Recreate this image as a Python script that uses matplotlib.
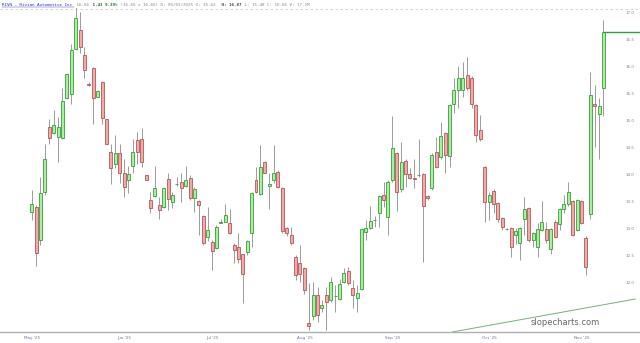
import matplotlib
matplotlib.use("Agg")
import matplotlib.pyplot as plt
import numpy as np

# daily RIVN candles
opens = [13.33, 13.42, 12.80, 13.70, 14.89, 14.78, 14.72, 14.70, 15.44, 15.51,
         16.35, 16.70, 16.23, 15.70, 15.99, 15.46, 15.73, 15.04, 14.44, 14.22,
         14.42, 14.05, 13.92, 14.18, 14.65, 14.67, 14.00, 13.55, 13.62, 13.45,
         13.41, 13.94, 13.50, 13.84, 13.88, 13.80, 13.96, 13.59, 13.52, 13.25,
         12.86, 12.76, 12.65, 13.12, 13.14, 13.11, 12.72, 12.67, 12.54, 12.59,
         12.93, 13.92, 13.65, 14.24, 13.80, 13.91, 14.07, 13.77, 13.02, 12.89,
         12.48, 12.37, 12.28, 11.27, 11.39, 11.78, 11.54, 11.78, 11.69, 11.76,
         11.72, 12.03, 12.23, 11.91, 11.73, 11.89, 12.96, 13.02, 13.17, 13.30,
         13.64, 13.23, 13.91, 14.41, 13.74, 14.27, 14.02, 13.96, 14.00, 14.02,
         13.62, 13.77, 14.43, 14.35, 14.78, 14.36, 15.32, 15.59, 15.58, 15.86,
         15.81, 15.31, 14.84, 14.16, 13.50, 13.72, 13.49, 13.22, 13.01, 13.03,
         12.89, 12.74, 13.19, 13.39, 12.80, 12.67, 12.99, 13.00, 12.63, 13.14,
         13.10, 13.37, 13.47, 13.52, 12.99, 13.53, 12.85, 13.28, 15.32, 15.13,
         15.62]
highs = [13.73, 13.45, 13.97, 14.59, 15.05, 15.22, 15.09, 15.61, 15.90, 16.44,
         17.12, 17.03, 16.38, 15.73, 16.01, 15.59, 15.75, 15.05, 14.59, 14.75,
         14.59, 14.31, 14.18, 14.68, 14.81, 14.87, 14.01, 13.70, 14.17, 13.60,
         13.79, 14.05, 13.70, 13.97, 14.04, 14.17, 14.00, 13.79, 13.54, 13.27,
         13.41, 12.80, 13.08, 13.20, 13.47, 13.37, 12.74, 12.93, 12.55, 12.80,
         13.70, 14.16, 14.56, 14.27, 14.04, 14.56, 14.10, 13.79, 13.05, 13.05,
         12.52, 12.71, 12.31, 12.01, 12.03, 11.94, 11.69, 11.94, 12.12, 11.97,
         12.09, 12.28, 12.31, 12.07, 11.97, 13.02, 13.18, 13.43, 13.25, 13.64,
         13.88, 13.91, 15.10, 14.44, 14.62, 14.31, 14.13, 14.31, 14.68, 14.04,
         13.64, 14.41, 14.72, 14.99, 14.81, 15.33, 15.80, 16.02, 16.10, 16.20,
         15.84, 15.33, 15.12, 14.17, 13.70, 13.74, 13.51, 13.23, 13.02, 13.05,
         13.02, 13.05, 13.60, 13.41, 12.96, 13.11, 13.53, 13.14, 13.02, 13.18,
         13.39, 13.64, 13.88, 13.55, 13.57, 13.55, 12.88, 15.92, 15.67, 15.43,
         16.87]
lows = [13.17, 12.32, 12.71, 13.64, 14.58, 14.77, 14.25, 14.68, 15.42, 15.32,
        16.32, 16.26, 15.80, 15.66, 14.95, 15.45, 14.95, 14.58, 13.85, 14.13,
        13.86, 13.60, 13.68, 14.04, 14.22, 14.16, 13.91, 13.30, 13.60, 13.20,
        13.39, 13.36, 13.39, 13.81, 13.51, 13.79, 13.55, 13.33, 12.89, 12.71,
        12.79, 12.25, 12.63, 13.11, 13.13, 12.91, 12.37, 12.37, 11.63, 12.52,
        12.67, 13.68, 13.64, 14.04, 13.37, 13.86, 13.76, 12.94, 12.87, 12.71,
        12.07, 12.03, 11.81, 11.14, 11.32, 11.28, 11.47, 11.14, 11.66, 11.47,
        11.69, 12.01, 11.97, 11.54, 11.47, 11.88, 12.80, 13.00, 13.05, 13.05,
        13.42, 12.89, 13.88, 13.35, 13.70, 13.79, 13.94, 13.76, 13.97, 12.40,
        13.55, 13.73, 14.13, 14.31, 14.05, 14.16, 15.15, 15.24, 15.46, 15.58,
        15.24, 14.62, 14.64, 13.14, 13.17, 13.30, 13.14, 12.99, 12.99, 12.49,
        12.73, 12.44, 12.89, 12.77, 12.68, 12.49, 12.97, 12.74, 12.55, 12.85,
        12.99, 13.30, 13.44, 12.88, 12.97, 13.10, 12.15, 13.20, 14.53, 14.30,
        15.10]
closes = [13.47, 12.57, 13.67, 14.30, 14.70, 14.94, 14.89, 15.37, 15.88, 16.32,
          16.91, 16.37, 15.96, 15.68, 15.44, 15.56, 15.07, 14.59, 14.13, 14.42,
          14.04, 13.78, 14.02, 14.44, 14.44, 14.24, 13.92, 13.39, 13.76, 13.36,
          13.77, 13.56, 13.64, 13.85, 13.76, 13.92, 13.59, 13.74, 13.45, 12.74,
          12.99, 12.60, 13.05, 13.13, 13.26, 12.93, 12.62, 12.46, 12.17, 12.78,
          13.68, 13.70, 14.15, 14.05, 13.84, 14.04, 13.78, 12.97, 12.93, 12.75,
          12.16, 12.18, 11.88, 11.22, 11.78, 11.41, 11.60, 11.65, 12.03, 11.77,
          11.99, 12.20, 12.00, 11.78, 11.83, 13.00, 13.02, 13.16, 13.18, 13.62,
          13.55, 13.88, 14.50, 13.70, 14.24, 14.02, 13.96, 13.93, 14.01, 13.43,
          13.59, 14.37, 14.16, 14.73, 14.38, 15.31, 15.59, 15.80, 15.80, 15.61,
          15.33, 14.75, 14.67, 13.51, 13.64, 13.47, 13.20, 13.05, 13.00, 12.67,
          12.97, 13.03, 13.37, 12.80, 12.93, 13.00, 13.13, 12.81, 13.00, 12.86,
          13.37, 13.47, 13.70, 12.89, 13.55, 13.12, 12.31, 15.49, 15.28, 15.28,
          16.66]

month_pos = [0, 21, 41, 62, 82, 104, 125]
month_labels = ["May '25", "Jun '25", "Jul '25", "Aug '25", "Sep '25", "Oct '25", "Nov '25"]
price_ticks = [12.0, 12.5, 13.0, 13.5, 14.0, 14.5, 15.0, 15.5, 16.0, 16.5, 17.0]

trend_x = [95.6, 137.2]
trend_y = [11.10, 11.71]

header_parts = [
    ("RIVN - Rivian Automotive Inc", "#3333cc", "normal"),
    (" 16.66", "#888888", "normal"),
    (" 1.43 9.39%", "#226622", "bold"),
    (" (16.65 x 16.66) D: 05/03/2025 O: 15.62", "#888888", "normal"),
    (" H: 16.87", "#444444", "bold"),
    (" L: 15.48 C: 16.66 V: 17.1M", "#888888", "normal"),
]

W, H = 640, 343
fig = plt.figure(figsize=(W / 100, H / 100), dpi=100)
ax = fig.add_axes([0, 11 / H, 1, 324 / H])

o = np.array(opens)
c = np.array(closes)
hi = np.array(highs)
lo = np.array(lows)
x = np.arange(len(o))
up = c >= o

green_face, green_edge = "#a8f0a0", "#3c9a3c"
red_face, red_edge = "#f4a9a9", "#b05858"

ax.vlines(x, lo, hi, color="#8c8c8c", lw=0.6, zorder=1)
body_lo = np.minimum(o, c)
body_h = np.maximum(np.abs(c - o), 0.005)
ax.bar(x[up], body_h[up], bottom=body_lo[up], width=0.68,
       color=green_face, edgecolor=green_edge, linewidth=0.6, zorder=2)
ax.bar(x[~up], body_h[~up], bottom=body_lo[~up], width=0.68,
       color=red_face, edgecolor=red_edge, linewidth=0.6, zorder=2)

# last price line
ax.hlines(c[-1], x[-1], 140, color=green_edge, lw=1.0, zorder=3)
# trendline
ax.plot(trend_x, trend_y, color="#77b077", lw=0.7, zorder=1)

ax.set_xlim(-7.2, 138.3)
ax.set_ylim(11.10, 17.10)

for s in ["top", "left", "right"]:
    ax.spines[s].set_visible(False)
ax.spines["bottom"].set_color("#b0b0b0")
ax.spines["bottom"].set_linewidth(1.0)
ax.set_yticks([])
ax.set_xticks(month_pos)
ax.set_xticklabels(month_labels, fontsize=3, color="#7070a0")
ax.tick_params(axis="x", length=0, pad=3)

# price labels inside the right edge
for p in price_ticks:
    ax.text(0.985, p, "%.1f" % p, transform=ax.get_yaxis_transform(),
            ha="center", va="center", fontsize=3, color="#888888")

ax.text(0.883, 0.03, "slopecharts.com", transform=ax.transAxes,
        ha="center", va="center", fontsize=6, color="#666666")

# header line
fs = 3.1
cw = 0.6 * fs * 100 / 72
pos = 2
for txt, col, wt in header_parts:
    fig.text(pos / W, 1 - 4.5 / H, txt, fontsize=fs, color=col,
             family="DejaVu Sans Mono", weight=wt, ha="left", va="center")
    pos += len(txt) * cw
name_len = len(header_parts[0][0]) * cw
fig.add_artist(plt.Line2D([2 / W, (2 + name_len) / W], [1 - 6.5 / H] * 2,
                          color="#3333cc", lw=0.3))
fig.add_artist(plt.Line2D([0, 1], [1 - 8.5 / H] * 2, color="#cccccc",
                          lw=0.6, ls=(0, (3, 3))))

fig.savefig("out.png", dpi=100)
